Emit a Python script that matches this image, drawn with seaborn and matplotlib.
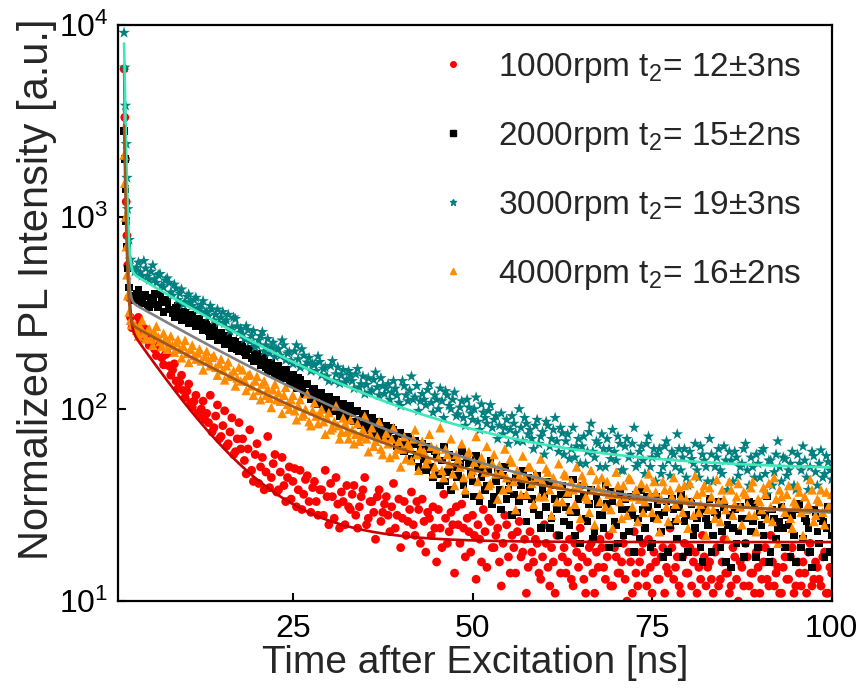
import numpy as np
import pandas as pd
import matplotlib
matplotlib.use("Agg")
import matplotlib.pyplot as plt
import seaborn as sns
from matplotlib.lines import Line2D
from matplotlib.ticker import NullLocator

# ---------------- data ----------------
samples = ["1000rpm", "2000rpm", "3000rpm", "4000rpm"]
legend_labels = ["1000rpm t$_2$= 12\u00b13ns", "2000rpm t$_2$= 15\u00b12ns",
                 "3000rpm t$_2$= 19\u00b13ns", "4000rpm t$_2$= 16\u00b12ns"]

# time bins [ns]
t_early = [1.5, 1.6, 1.7, 1.8, 1.9, 2.0, 2.2, 2.4, 2.6]
t_main_a = list(np.arange(3.0, 100.01, 0.5))    # bins 3.00, 3.50, ... 100.00 ns
t_main_b = list(np.arange(3.25, 99.76, 0.5))    # bins 3.25, 3.75, ...  99.75 ns

red_early = [5900, 3300, 2000, 1200, 800, 560, 380, 300, 265]
black_early = [2800, 2000, 1400, 950, 700, 540, 430, 390, 370]
teal_early = [9100, 6000, 3800, 2400, 1600, 1100, 760, 600, 545]
orange_early = [2100, 1500, 1000, 700, 500, 390, 320, 290, 275]

red_a = [270,300,238,260,215,240,190,218,170,195,
         150,172,128,150,115,135,102,118,92,110,
         95,118,80,105,72,98,66,90,60,85,
         70,46,78,42,66,50,38,72,44,58,
         38,56,33,50,42,31,48,36,45,29,
         42,28,38,48,25,35,44,24,33,40,
         30,40,24,35,44,27,33,21,38,29,
         35,23,41,28,19,33,26,37,22,30,
         34,18,27,31,16,24,36,20,29,14,
         25,32,17,23,28,13,21,30,15,26,
         19,24,12,28,17,22,14,26,18,11,
         23,16,20,13,25,15,19,11,22,17,
         14,21,12,18,24,13,16,20,11,15,
         19,13,22,12,17,14,20,10,16,23,
         12,18,14,21,11,16,13,19,15,24,
         13,17,11,20,14,12,18,15,22,12,
         16,11,19,13,21,14,12,17,10,15,
         20,12,14,18,11,16,13,22,12,15,
         11,17,13,19,12,14,16,11,20,13,
         15,12,18,11,14]
red_b = [255,280,232,248,222,205,210,185,192,168,
         160,140,138,125,124,108,110,95,100,88,
         85,76,92,70,82,64,76,58,70,62,
         54,62,48,58,41,56,47,39,52,37,
         47,40,44,34,49,38,30,43,33,39,
         33,38,28,35,41,27,32,37,25,31,
         36,28,31,38,25,33,29,35,26,32,
         28,31,24,34,27,22,30,25,33,20,
         26,29,22,24,30,19,27,23,25,31,
         20,24,27,18,22,25,16,23,27,19,
         22,16,20,25,14,19,23,17,21,15,
         18,21,14,17,20,12,16,22,14,19,
         16,13,20,15,17,11,19,14,18,21,
         15,17,12,19,14,16,13,18,11,14,
         16,20,12,15,18,13,17,11,14,19,
         15,12,17,14,19,16,11,13,17,15,
         13,18,12,16,14,11,19,13,16,12,
         17,14,11,15,13,19,12,16,14,11,
         15,13,17,11,16,12,14,18,12,16,
         13,17,11,15]

black_a = [380,420,355,395,340,380,350,395,320,360,
           330,300,345,290,318,280,305,270,290,258,
           275,240,262,228,248,218,238,208,225,200,
           212,190,205,178,195,170,182,158,175,150,
           168,145,160,136,150,128,142,120,135,112,
           128,106,122,100,116,98,112,92,106,90,
           104,86,98,82,94,78,90,74,86,72,
           82,70,78,64,75,60,72,55,68,50,
           66,48,62,44,58,40,64,47,38,56,
           45,60,36,52,42,57,33,48,40,54,
           35,47,30,50,38,28,44,33,48,26,
           39,30,45,24,36,42,27,34,22,40,
           31,25,43,29,20,35,26,38,23,32,
           28,40,19,33,25,37,22,30,35,18,
           27,38,24,31,20,35,28,17,33,25,
           30,21,36,26,18,32,24,29,16,27,
           34,22,28,19,31,25,15,30,23,27,
           20,33,26,17,29,22,35,18,27,24,
           31,19,25,28,16,32,21,26,18,30,
           23,27,17,31,22]
black_b = [400,370,385,350,365,400,340,360,372,330,
           315,335,305,320,292,310,285,295,270,280,
           255,268,240,250,228,242,220,228,205,215,
           198,205,185,192,178,186,165,172,160,165,
           155,158,146,150,138,145,130,136,122,126,
           118,120,110,114,104,110,100,104,96,100,
           95,97,88,92,84,88,80,84,76,80,
           76,80,70,74,66,70,62,66,58,62,
           55,64,50,60,46,54,42,58,50,44,
           52,40,56,46,35,50,44,38,48,32,
           42,38,45,34,42,36,29,40,35,44,
           34,42,28,38,31,24,40,30,36,26,
           36,29,22,34,40,27,32,21,35,28,
           24,32,37,26,20,30,34,23,28,36,
           21,30,35,19,27,32,23,29,18,34,
           26,31,17,28,33,22,27,19,30,25,
           18,29,33,23,16,28,24,20,31,17,
           27,23,32,19,25,28,16,30,21,26,
           24,28,17,22,30,19,27,24,15,29,
           20,26,24,18]

teal_a = [520,580,495,540,470,560,455,505,430,480,
          405,445,370,420,360,395,345,380,330,365,
          320,345,290,330,300,280,310,265,295,250,
          245,270,225,255,215,240,200,232,210,188,
          205,228,180,198,172,215,165,190,175,158,
          170,188,150,165,140,178,152,136,160,142,
          150,128,162,135,120,145,125,155,118,132,
          128,112,140,118,104,132,110,148,115,98,
          120,105,135,96,112,128,90,118,100,122,
          94,110,82,102,88,115,78,96,84,105,
          88,70,95,80,66,92,75,100,68,84,
          78,62,88,72,58,82,70,90,60,75,
          68,55,80,64,52,72,60,84,56,66,
          74,50,62,78,54,66,48,70,58,80,
          52,64,46,72,56,42,62,50,68,45,
          58,74,48,62,40,55,66,44,58,50,
          70,42,56,48,64,38,54,60,45,52,
          66,40,50,58,44,62,36,54,47,68,
          42,55,48,60,38,52,64,44,50,57,
          40,61,46,53,43]
teal_b = [545,515,590,490,520,475,500,440,468,455,
          390,425,400,350,385,360,370,335,350,320,
          305,330,310,282,320,290,255,300,270,262,
          232,258,240,210,228,252,215,195,222,205,
          190,215,195,178,200,182,205,168,185,172,
          158,176,162,148,168,140,165,150,138,158,
          140,152,130,148,134,122,142,130,145,120,
          135,122,128,108,140,118,125,112,132,110,
          112,126,108,118,100,110,124,104,112,92,
          102,90,112,95,100,86,106,90,98,80,
          92,82,74,88,78,84,68,80,90,74,
          70,82,66,76,86,64,78,68,80,58,
          74,62,56,70,64,52,76,60,68,50,
          62,70,55,60,72,48,64,56,66,50,
          60,54,66,50,62,58,46,64,54,60,
          50,62,56,44,60,52,48,64,54,42,
          58,50,62,46,54,60,42,56,50,62,
          48,56,44,52,60,46,54,40,58,50,
          56,45,52,40,58,48,54,38,60,47,
          52,44,57,48]

orange_a = [275,240,290,232,262,215,270,225,248,205,
            240,198,230,185,228,175,215,182,205,160,
            200,168,190,150,182,142,176,148,132,165,
            160,125,152,118,148,112,140,128,102,135,
            122,95,130,100,118,88,112,94,120,82,
            108,84,100,74,96,80,104,70,90,76,
            88,66,84,72,92,60,80,68,86,58,
            75,56,80,62,50,72,66,54,78,48,
            68,52,74,46,62,80,44,58,70,40,
            55,66,38,60,48,72,36,52,64,41,
            58,34,47,62,39,53,30,45,57,36,
            50,32,44,55,35,47,28,41,52,33,
            45,30,38,50,27,42,34,48,25,39,
            44,31,36,24,47,33,40,28,43,35,
            26,41,33,46,29,37,23,42,31,38,
            44,27,35,40,24,33,45,29,37,22,
            39,30,43,26,34,21,38,32,41,25,
            36,28,42,23,33,39,27,31,44,20,
            35,29,40,24,32,37,22,30,43,26,
            34,38,25,31,36]
orange_b = [258,270,248,255,232,250,238,212,232,222,
            215,222,205,212,195,205,190,196,178,188,
            180,186,165,172,160,168,150,158,145,140,
            142,150,132,140,125,135,118,114,126,112,
            110,118,106,112,98,104,92,100,86,98,
            92,96,86,90,78,86,82,76,84,70,
            78,74,68,78,70,74,64,72,62,70,
            66,70,58,68,62,55,64,70,58,62,
            60,55,64,50,56,48,62,52,46,58,
            50,44,58,46,53,42,56,47,40,52,
            46,51,38,44,55,42,48,36,44,50,
            41,46,35,42,49,38,44,33,40,46,
            37,42,32,40,45,35,29,38,43,33,
            38,42,30,36,40,27,35,44,31,38,
            34,29,39,36,42,27,34,38,26,35,
            32,39,29,34,41,28,36,32,40,30,
            35,27,33,38,30,42,28,35,31,37,
            32,39,28,34,30,36,41,26,34,38,
            31,36,27,33,40,29,35,32,38,28,
            33,29,37,31]

# bi-exponential fit curves: y = y0 + A1*exp(-(t-1.5)/tau1) + A2*exp(-(t-1.5)/tau2)
fit_A1 = [5712, 3423, 7462, 2713]
fit_tau1 = [0.2, 0.2, 0.2, 0.2]
fit_A2 = [268, 350, 490, 259]
fit_tau2 = [7.5, 19.0, 17.5, 19.0]
fit_y0 = [20.3, 27.0, 48.0, 28.0]
fit_t = np.linspace(1.5, 100, 600)

# ---------------- styles ----------------
point_colors = ["#ff0000", "#000000", "#008080", "#ff8c00"]
line_colors = ["#c80000", "#808080", "#3ee8b8", "#a0561c"]
marker_list = ["o", "s", "*", "^"]
marker_sizes = [40, 30, 78, 48]

sns.set_style("white")
plt.rcParams["font.family"] = ["Liberation Sans", "DejaVu Sans"]
plt.rcParams["mathtext.fontset"] = "custom"
plt.rcParams["mathtext.rm"] = "Liberation Sans"
plt.rcParams["mathtext.it"] = "Liberation Sans"
plt.rcParams["mathtext.default"] = "regular"

series = [(red_early, red_a, red_b), (black_early, black_a, black_b),
          (teal_early, teal_a, teal_b), (orange_early, orange_a, orange_b)]

frames = []
for name, (e, a, b) in zip(samples, series):
    frames.append(pd.DataFrame({"time": t_early + t_main_a + t_main_b,
                                "intensity": e + a + b,
                                "sample": name}))
df = pd.concat(frames, ignore_index=True)

fig = plt.figure(figsize=(8.61, 6.91), dpi=100)
ax = fig.add_axes([0.137, 0.130, 0.829, 0.834])
ax.set_yscale("log")

sns.scatterplot(data=df, x="time", y="intensity", hue="sample", style="sample",
                size="sample",
                palette=dict(zip(samples, point_colors)),
                markers=dict(zip(samples, marker_list)),
                sizes=dict(zip(samples, marker_sizes)),
                linewidth=0, legend=False, ax=ax)

for A1, t1, A2, t2, y0, c in zip(fit_A1, fit_tau1, fit_A2, fit_tau2, fit_y0, line_colors):
    yfit = y0 + A1 * np.exp(-(fit_t - 1.5) / t1) + A2 * np.exp(-(fit_t - 1.5) / t2)
    sns.lineplot(x=fit_t, y=yfit, color=c, linewidth=1.9, estimator=None,
                 sort=False, ax=ax)

ax.set_xlim(0.65, 100)
ax.set_ylim(10, 1e4)
ax.set_xticks([25, 50, 75, 100])
ax.set_yticks([10, 100, 1000, 10000])
ax.yaxis.set_minor_locator(NullLocator())
ax.xaxis.set_minor_locator(NullLocator())
ax.tick_params(direction="in", length=6, width=1.5, labelsize=23, colors="black",
               top=False, right=False, left=True, bottom=True)
ax.tick_params(axis="x", pad=9)
ax.tick_params(axis="y", pad=7)
for sp in ax.spines.values():
    sp.set_linewidth(1.6)
    sp.set_color("black")

ax.set_xlabel("Time after Excitation [ns]", fontsize=28, labelpad=1)
ax.set_ylabel("Normalized PL Intensity [a.u.]", fontsize=30, labelpad=1)
ax.yaxis.label.set_y(0.542)

handles = [Line2D([], [], ls="", marker=mk, color=c, markersize=ms)
           for mk, c, ms in zip(marker_list, point_colors, [4, 4, 5, 4.5])]
ax.legend(handles, legend_labels, loc="upper left", bbox_to_anchor=(0.428, 0.978),
          frameon=False, fontsize=24, handletextpad=0.85, labelspacing=1.05,
          handlelength=1.0, borderaxespad=0)

fig.savefig("out.png", dpi=100)
